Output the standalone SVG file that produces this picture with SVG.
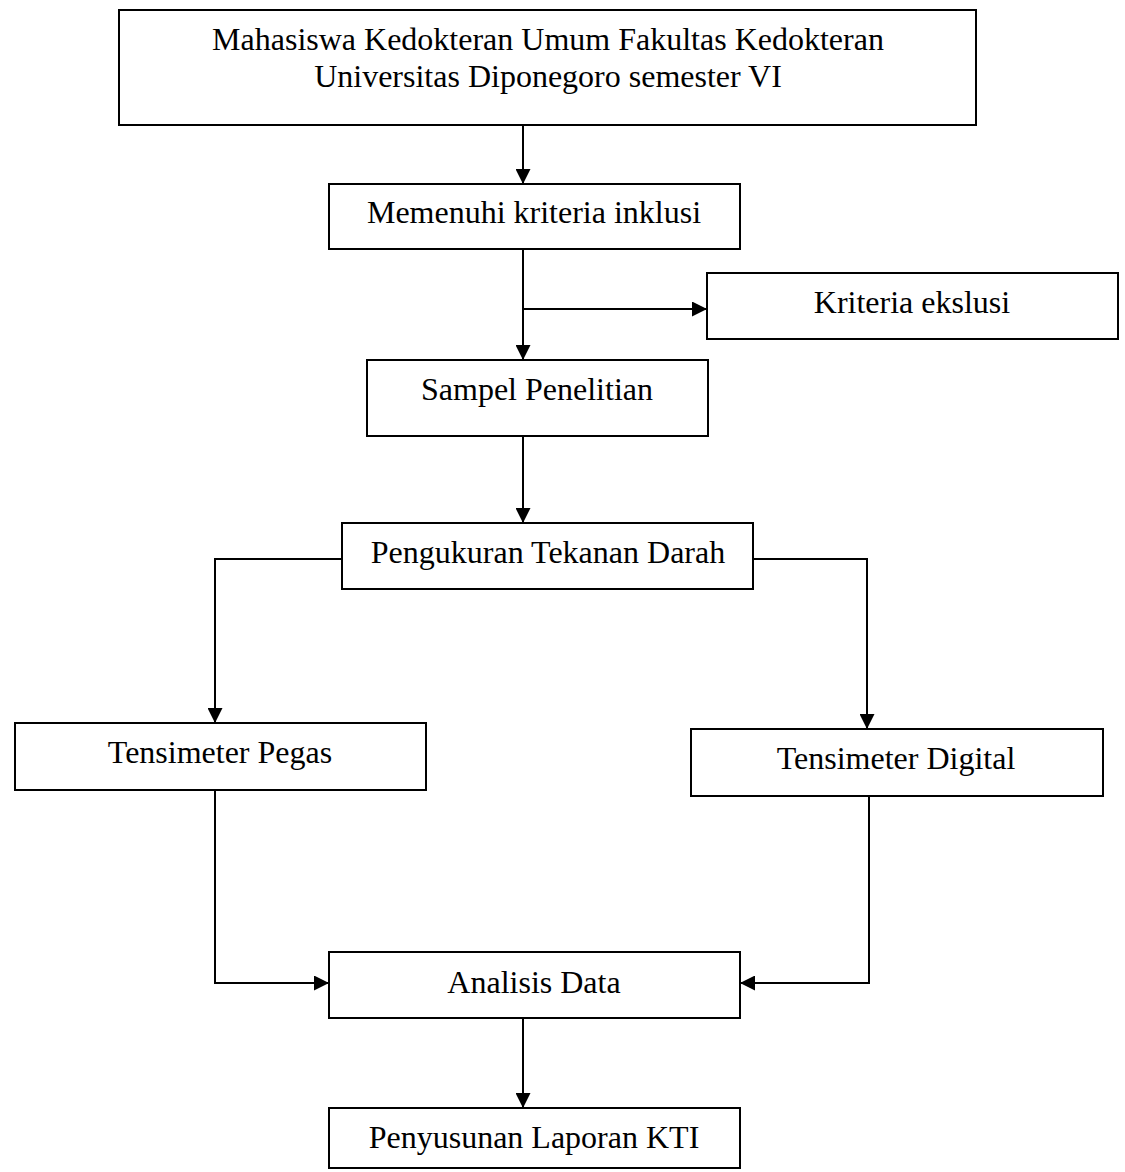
<svg xmlns="http://www.w3.org/2000/svg" width="1125" height="1172" viewBox="0 0 1125 1172">
<style>
.box{fill:#fff;stroke:#000;stroke-width:2}
.lbl{font-family:"Liberation Serif","Times New Roman",serif;font-size:32px;fill:#000;text-anchor:middle}
.conn{fill:none;stroke:#000;stroke-width:2}
</style>
<defs>
<marker id="ah" viewBox="0 0 15 15" refX="15" refY="7.5" markerWidth="15" markerHeight="15" markerUnits="userSpaceOnUse" orient="auto">
<path d="M0,0 L15,7.5 L0,15 z" fill="#000"/>
</marker>
</defs>
<rect width="1125" height="1172" fill="#fff"/>
<g id="connectors">
<path class="conn" d="M523,125 V184" marker-end="url(#ah)"/>
<path class="conn" d="M523,249 V360" marker-end="url(#ah)"/>
<path class="conn" d="M523,309 H707" marker-end="url(#ah)"/>
<path class="conn" d="M523,436 V523" marker-end="url(#ah)"/>
<path class="conn" d="M342,559 H215 V723" marker-end="url(#ah)"/>
<path class="conn" d="M753,559 H867 V729" marker-end="url(#ah)"/>
<path class="conn" d="M215,790 V983 H329" marker-end="url(#ah)"/>
<path class="conn" d="M869,796 V983 H740" marker-end="url(#ah)"/>
<path class="conn" d="M523,1018 V1108" marker-end="url(#ah)"/>
</g>
<g id="n-mahasiswa">
<rect class="box" x="119" y="10" width="857" height="115"/>
<text class="lbl" x="548" y="50">Mahasiswa Kedokteran Umum Fakultas Kedokteran</text>
<text class="lbl" x="548" y="87">Universitas Diponegoro semester VI</text>
</g>
<g id="n-inklusi">
<rect class="box" x="329" y="184" width="411" height="65"/>
<text class="lbl" x="534" y="223">Memenuhi kriteria inklusi</text>
</g>
<g id="n-eksklusi">
<rect class="box" x="707" y="273" width="411" height="66"/>
<text class="lbl" x="912" y="313">Kriteria ekslusi</text>
</g>
<g id="n-sampel">
<rect class="box" x="367" y="360" width="341" height="76"/>
<text class="lbl" x="537" y="400">Sampel Penelitian</text>
</g>
<g id="n-pengukuran">
<rect class="box" x="342" y="523" width="411" height="66"/>
<text class="lbl" x="548" y="563">Pengukuran Tekanan Darah</text>
</g>
<g id="n-pegas">
<rect class="box" x="15" y="723" width="411" height="67"/>
<text class="lbl" x="220" y="763">Tensimeter Pegas</text>
</g>
<g id="n-digital">
<rect class="box" x="691" y="729" width="412" height="67"/>
<text class="lbl" x="896" y="769">Tensimeter Digital</text>
</g>
<g id="n-analisis">
<rect class="box" x="329" y="952" width="411" height="66"/>
<text class="lbl" x="534" y="993">Analisis Data</text>
</g>
<g id="n-laporan">
<rect class="box" x="329" y="1108" width="411" height="60"/>
<text class="lbl" x="534" y="1148">Penyusunan Laporan KTI</text>
</g>
</svg>
